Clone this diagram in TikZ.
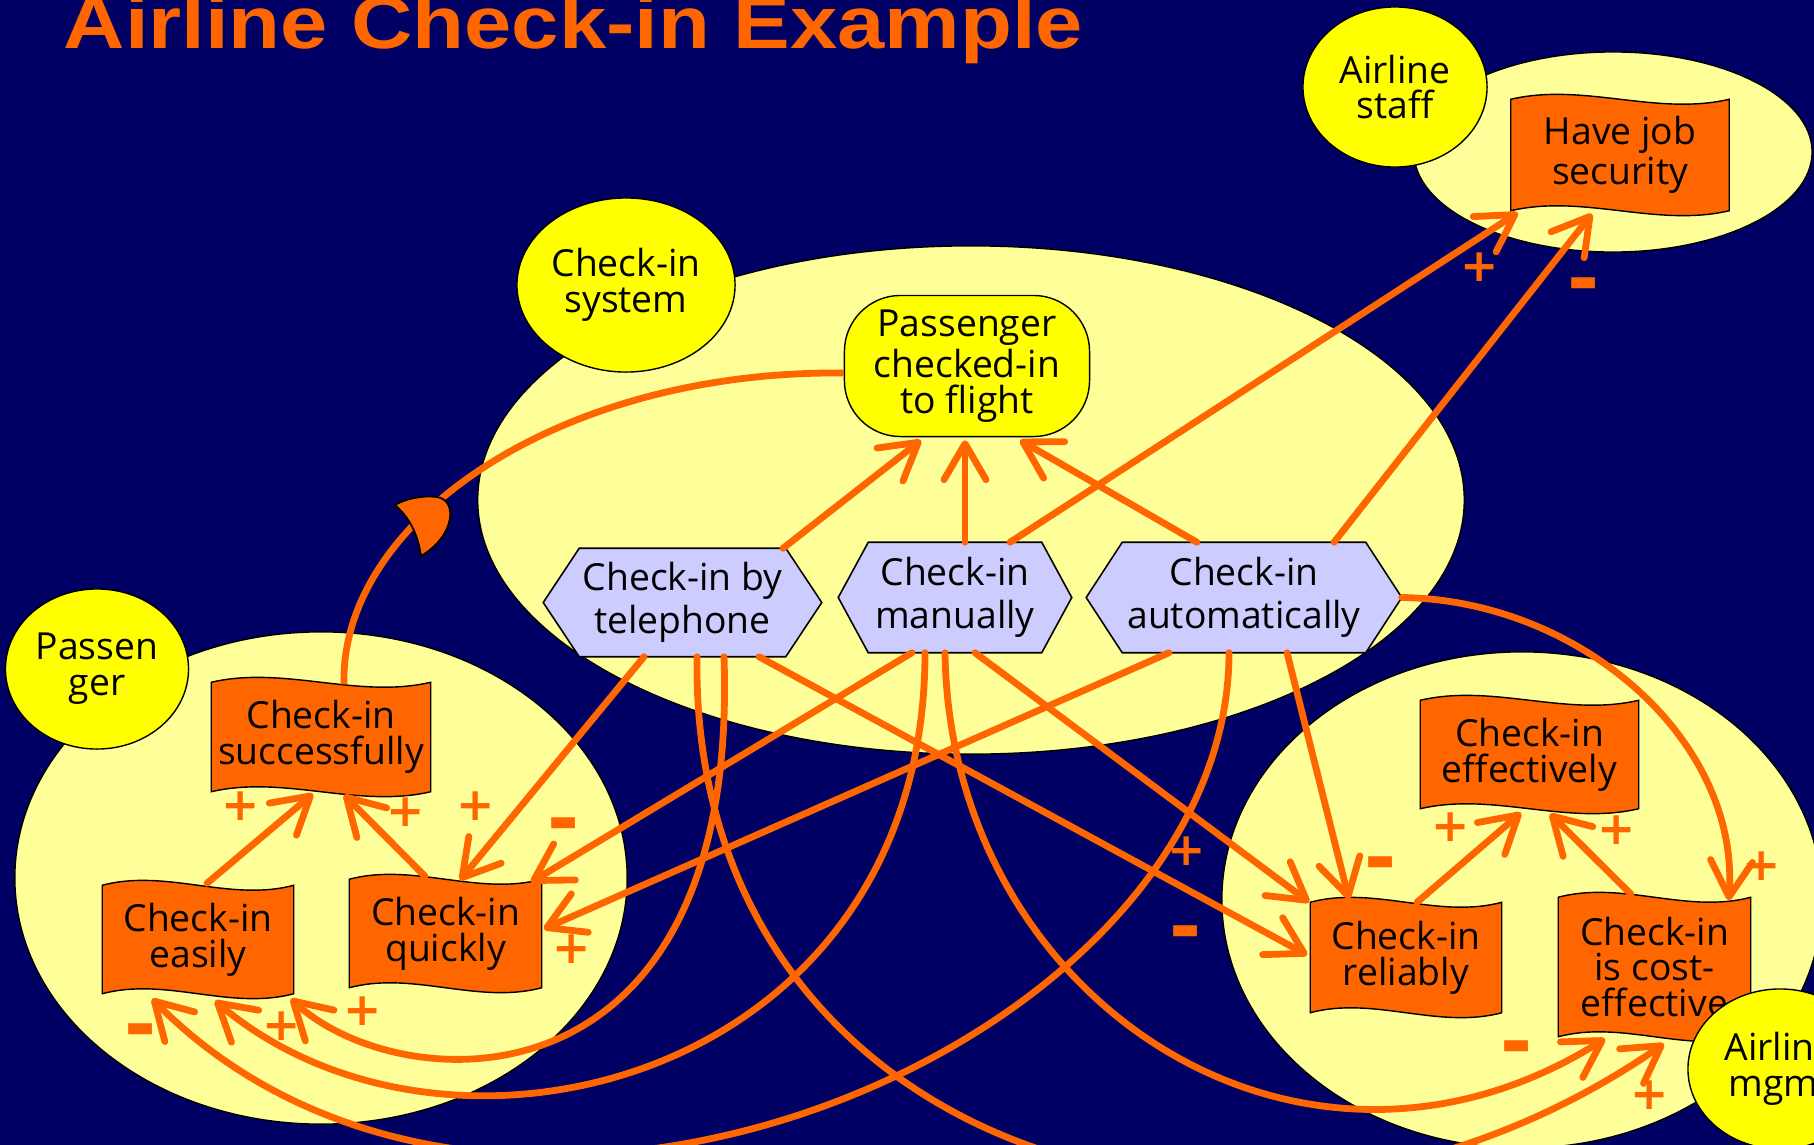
\documentclass[tikz,border=0pt]{standalone}
\usepackage{fontspec}
\setmainfont{Open Sans}
\newfontfamily\titlefont[FakeStretch=1.15]{Liberation Sans}
\newfontfamily\signfont{DejaVu Sans}
\usetikzlibrary{shapes.geometric,arrows.meta,calc}

\definecolor{navy}{RGB}{0,0,100}
\definecolor{paleyellow}{RGB}{255,255,153}
\definecolor{actoryellow}{RGB}{255,255,0}
\definecolor{linkorange}{RGB}{255,102,0}
\definecolor{lilac}{RGB}{204,204,255}

\pgfdeclarelayer{back}
\pgfdeclarelayer{mid}
\pgfsetlayers{back,mid,main}

\tikzset{
  boundary/.style={ellipse, draw=black, line width=0.4pt, fill=paleyellow, inner sep=0pt},
  actor/.style={ellipse, draw=black, line width=0.4pt, fill=actoryellow, inner sep=0pt,
    align=center, font=\fontsize{10.6}{10.2}\selectfont,
    minimum width=1.84cm, minimum height=1.6cm},
  goalbox/.style={rectangle, rounded corners=0.56cm, draw=black, line width=0.4pt,
    fill=actoryellow, inner sep=0pt, align=center, font=\fontsize{10.6}{10.2}\selectfont,
    minimum width=2.45cm, minimum height=1.41cm},
  softgoal/.style={rectangle, inner sep=0pt, align=center, font=\fontsize{10.6}{10.2}\selectfont},
  taskbox/.style={rectangle, inner sep=0pt, align=center, font=\fontsize{10.6}{12.2}\selectfont},
  flagfill/.style={fill=linkorange, draw=black, line width=0.4pt},
  hexfill/.style={fill=lilac, draw=black, line width=0.45pt},
  link/.style={draw=linkorange, line width=0.068cm, line cap=round,
    -{Straight Barb[length=0.36cm,width=0.42cm,round]}},
  deplink/.style={draw=linkorange, line width=0.068cm},
  plus/.style={text=linkorange, inner sep=0pt, font=\signfont\bfseries\fontsize{13}{13}\selectfont},
  minus/.style={text=linkorange, inner sep=0pt, text height=13.2pt, text depth=0pt,
    font=\signfont\bfseries\fontsize{22}{22}\selectfont},
}

% wavy banner behind a softgoal node
\newcommand\flagshape[1]{%
  \begin{pgfonlayer}{mid}
    \path[flagfill] (#1.north west)
      .. controls ($(#1.north west)!0.333!(#1.north east)+(0,-17)$)
             and ($(#1.north west)!0.667!(#1.north east)+(0,17)$) .. (#1.north east)
      -- (#1.south east)
      .. controls ($(#1.south west)!0.667!(#1.south east)+(0,17)$)
             and ($(#1.south west)!0.333!(#1.south east)+(0,-17)$) .. (#1.south west)
      -- cycle;
  \end{pgfonlayer}}

% hexagon behind a task node; #2 is the depth of the side points
\newcommand\hexshape[2]{%
  \begin{pgfonlayer}{mid}
    \path[hexfill] (#1.west) -- ([xshift=#2]#1.north west) -- ([xshift=-#2]#1.north east)
      -- (#1.east) -- ([xshift=-#2]#1.south east) -- ([xshift=#2]#1.south west) -- cycle;
  \end{pgfonlayer}}

\begin{document}
\begin{tikzpicture}[x=0.01cm, y=-0.01cm]
\useasboundingbox (0,0) rectangle (1814,1145);

\begin{pgfonlayer}{back}
  \fill[navy] (0,0) rectangle (1814,1145);
  \node[boundary, minimum width=3.98cm, minimum height=2.0cm] (staffB) at (1613,152) {};
  \node[boundary, minimum width=9.86cm, minimum height=5.08cm] (sysB) at (971,500) {};
  \node[boundary, minimum width=6.12cm, minimum height=4.92cm] (passB) at (321,878) {};
  \node[boundary, minimum width=6.0cm, minimum height=4.96cm] (mgmtB) at (1522,900) {};
\end{pgfonlayer}

% title
\node[anchor=base west, inner sep=0pt, text=linkorange,
      font=\titlefont\bfseries\fontsize{21}{21}\selectfont] (title) at (63,48)
      {Airline Check-in Example};

% actors
\node[actor] (staff) at (1395,87) {Airline\\staff};
\node[actor, minimum width=2.18cm, minimum height=1.74cm] (sysA) at (626,285) {Check-in\\system};
\node[actor, minimum width=1.83cm] (pass) at (97,669) {Passen\\ger};

% goal
\node[goalbox] (goal) at (967,366) {Passenger\\checked-in\\to flight};

% tasks
\node[taskbox, minimum width=2.77cm, minimum height=1.07cm] (tel) at (682.5,602.5) {Check-in by\\telephone};
\node[taskbox, minimum width=2.32cm, minimum height=1.09cm] (man) at (955,597.5) {Check-in\\manually};
\node[taskbox, minimum width=3.14cm, minimum height=1.09cm] (autom) at (1244,597.5) {Check-in\\automatically};
\hexshape{tel}{0.36cm}
\hexshape{man}{0.30cm}
\hexshape{autom}{0.36cm}

% softgoals
\node[softgoal, minimum width=2.17cm, minimum height=1.10cm] (job) at (1620,155) {Have job\\security};
\node[softgoal, minimum width=2.18cm, minimum height=1.08cm] (succ) at (321,737) {Check-in\\successfully};
\node[softgoal, minimum width=1.90cm, minimum height=1.07cm] (easy) at (198,939.5) {Check-in\\easily};
\node[softgoal, minimum width=1.91cm, minimum height=1.07cm] (quick) at (445.5,933.5) {Check-in\\quickly};
\node[softgoal, minimum width=2.17cm, minimum height=1.07cm] (eff) at (1529.5,754.5) {Check-in\\effectively};
\node[softgoal, minimum width=1.90cm, minimum height=1.09cm] (rel) at (1406,957.5) {Check-in\\reliably};
\node[softgoal, minimum width=1.91cm, minimum height=1.38cm] (cost) at (1654.5,967) {Check-in\\is cost-\\effective};
\flagshape{job}
\flagshape{succ}
\flagshape{easy}
\flagshape{quick}
\flagshape{eff}
\flagshape{rel}
\flagshape{cost}

% means-end links into the goal
\draw[link] ($(tel.north)+(100.5,0)$) -- ($(goal.south)+(-46,3)$);
\draw[link] ($(man.north)+(10,0)$) -- ($(goal.south)+(-2,3)$);
\draw[link] ($(autom.north)+(-47,0)$) -- ($(goal.south)+(53,3)$);

% contributions to job security
\draw[link] ($(man.north)+(55,0)$) -- ($(job.south west)+(7,2)$);
\draw[link] ($(autom.north)+(90,0)$) -- ($(job.south)+(-28,3)$);

% dependency
\draw[deplink] ($(succ.north)+(23,2)$) .. controls (340,520) and (560,370) .. ($(goal.west)+(0,7)$);
\path[fill=linkorange, draw=black, line width=0.5pt]
  (395,505) .. controls (410,518) and (418,535) .. (421,556)
  .. controls (455,536) and (458,500) .. (437,497)
  .. controls (422,495) and (405,499) .. (395,505) -- cycle;

% passenger softgoal contributions
\draw[link] ($(easy.north)+(9,-2)$) -- ($(succ.south)+(-8,2)$);
\draw[link] ($(quick.north)+(-20.5,-3)$) -- ($(succ.south)+(23,3)$);
\draw[link] ($(tel.south)+(-38.5,0)$) -- ($(quick.north)+(14.5,1)$);
\draw[link] ($(man.south)+(-43,0)$) -- ($(quick.north east)+(-11,3)$);
\draw[link] ($(autom.south)+(-75,0)$) -- ($(quick.east)+(2,-4.5)$);
\draw[link] ($(tel.south)+(41.5,0)$) .. controls (740,1120) and (400,1100) .. ($(easy.south east)+(-3,5)$);
\draw[link] ($(man.south)+(-30,0)$) .. controls (925,1080) and (450,1200) .. ($(easy.south)+(17,7)$);
\draw[link] ($(autom.south)+(-15,0)$) .. controls (1229,1050) and (500,1350) .. ($(easy.south)+(-46,5)$);

% airline softgoal contributions
\draw[link] ($(tel.south)+(14.5,0)$) .. controls (690,1150) and (1250,1330) .. ($(cost.south)+(9.5,7)$);
\draw[link] ($(man.south)+(-10,0)$) .. controls (950,1000) and (1300,1230) .. ($(cost.south)+(-49.5,2)$);
\draw[link] (autom.east) .. controls (1580,600) and (1740,740) .. ($(cost.north east)+(-22,3)$);
\draw[link] ($(tel.south)+(76.5,0)$) -- ($(rel.west)+(-3,-2.5)$);
\draw[link] ($(man.south)+(20,0)$) -- ($(rel.north west)+(-1,0)$);
\draw[link] ($(autom.south)+(43,0)$) -- ($(rel.north)+(-57,-3)$);
\draw[link] ($(rel.north)+(11,0)$) -- ($(eff.south)+(-8.5,4)$);
\draw[link] ($(cost.north)+(-23.5,-3)$) -- ($(eff.south)+(20.5,5)$);

% contribution signs
\node[plus] (s1) at (1480,267) {+};
\node[minus] (s2) at (1584,282) {-};
\node[plus] (s3) at (241,806) {+};
\node[plus] (s4) at (406,812) {+};
\node[plus] (s5) at (476,806) {+};
\node[minus] (s6) at (564,822) {-};
\node[plus] (s7) at (572,949) {+};
\node[minus] (s8) at (141,1028) {-};
\node[plus] (s9) at (282,1026) {+};
\node[plus] (s10) at (363,1011) {+};
\node[plus] (s11) at (1187,851) {+};
\node[minus] (s12) at (1186,930) {-};
\node[minus] (s13) at (1381,861) {-};
\node[plus] (s14) at (1451,827) {+};
\node[plus] (s15) at (1617,830) {+};
\node[plus] (s16) at (1762,866) {+};
\node[minus] (s17) at (1517,1045) {-};
\node[plus] (s18) at (1650,1095) {+};

% management actor sits on top of its banner
\node[actor] (mgmt) at (1780,1069) {Airline\\mgmt};
\end{tikzpicture}
\end{document}
